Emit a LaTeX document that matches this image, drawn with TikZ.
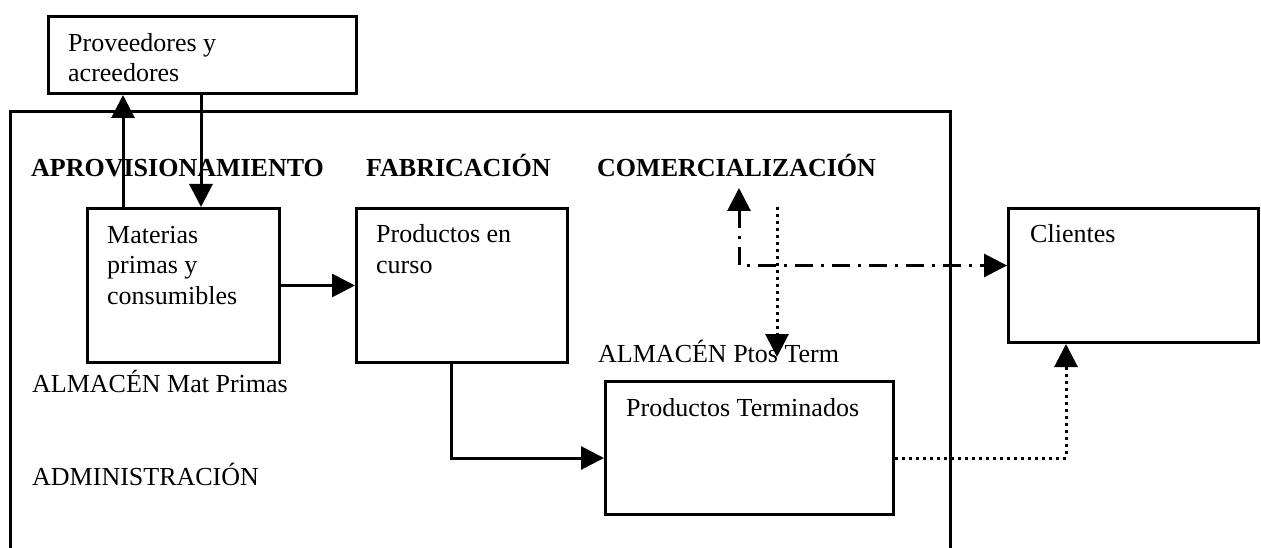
\documentclass[tikz,border=0pt]{standalone}
\usepackage{fontspec}
\setmainfont{Liberation Serif}
\usetikzlibrary{positioning,arrows.meta}

\begin{document}
\begin{tikzpicture}[x=1pt,y=-1pt,
    caja/.style={draw,line width=3pt,inner sep=0pt,anchor=north west},
    texto/.style={inner sep=0pt,anchor=base west,align=left,font=\fontsize{26}{30.5}\selectfont},
    titulo/.style={texto,font=\fontsize{26}{30.5}\selectfont\bfseries},
    flecha/.style={line width=3pt,-{Triangle[length=23pt,width=23pt]}},
    punteada/.style={flecha,dash pattern=on 3pt off 4pt},
    rayapunto/.style={line width=3pt,{Triangle[length=23pt,width=23pt]}-{Triangle[length=23pt,width=23pt]},dash pattern=on 18pt off 8pt on 3pt off 8pt}]
    \useasboundingbox (0,0) rectangle (1261,548);
    % recinto de la empresa
    \draw[line width=3pt] (10,548) -- (10,112) -- (950,112) -- (950,548);
    % cajas
    \node[caja,minimum width=308pt,minimum height=77pt] (prov) at (47,15) {};
    \node[caja,minimum width=192pt,minimum height=154pt] (mat) at (86,207) {};
    \node[caja,minimum width=211pt,minimum height=154pt] (curso) at (355,207) {};
    \node[caja,minimum width=288pt,minimum height=133pt] (term) at (604,380) {};
    \node[caja,minimum width=250pt,minimum height=134pt] (clientes) at (1007,207) {};
    \node[texto] (tprov) at (68,82) {Proveedores y\\acreedores};
    \node[texto] (tmat) at (107,304) {Materias\\primas y\\consumibles};
    \node[texto] (tcurso) at (376,273) {Productos en\\curso};
    \node[texto] (tterm) at (626,416) {Productos Terminados};
    \node[texto] (tclientes) at (1030,243) {Clientes};
    % areas
    \node[titulo] (aprov) at (31,177) {APROVISIONAMIENTO};
    \node[titulo] (fabric) at (366,177) {FABRICACIÓN};
    \node[titulo] (comerc) at (597,177) {COMERCIALIZACIÓN};
    \node[texto] (almmat) at (32,392) {ALMACÉN Mat Primas};
    \node[texto] (almterm) at (598,362) {ALMACÉN Ptos Term};
    \node[texto] (admin) at (32,485) {ADMINISTRACIÓN};
    % flujos
    \draw[flecha] ([xshift=37pt]mat.north west) -- ([xshift=76pt]prov.south west);
    \draw[flecha] ([xshift=154pt]prov.south west) -- ([xshift=115pt]mat.north west);
    \draw[flecha] (mat) -- (curso);
    \draw[flecha] ([xshift=96pt]curso.south west) |- ([yshift=-10pt]term.west);
    \draw[punteada] ([yshift=-10pt]term.east) -| ([xshift=59pt]clientes.south west);
    \coordinate (pedido) at (777,207);
    \coordinate (entrega) at (777,357);
    \draw[punteada] (pedido) -- (entrega);
    \coordinate (venta) at (739,188);
    \draw[rayapunto] (venta) |- ([yshift=10pt]clientes.west);
\end{tikzpicture}
\end{document}
